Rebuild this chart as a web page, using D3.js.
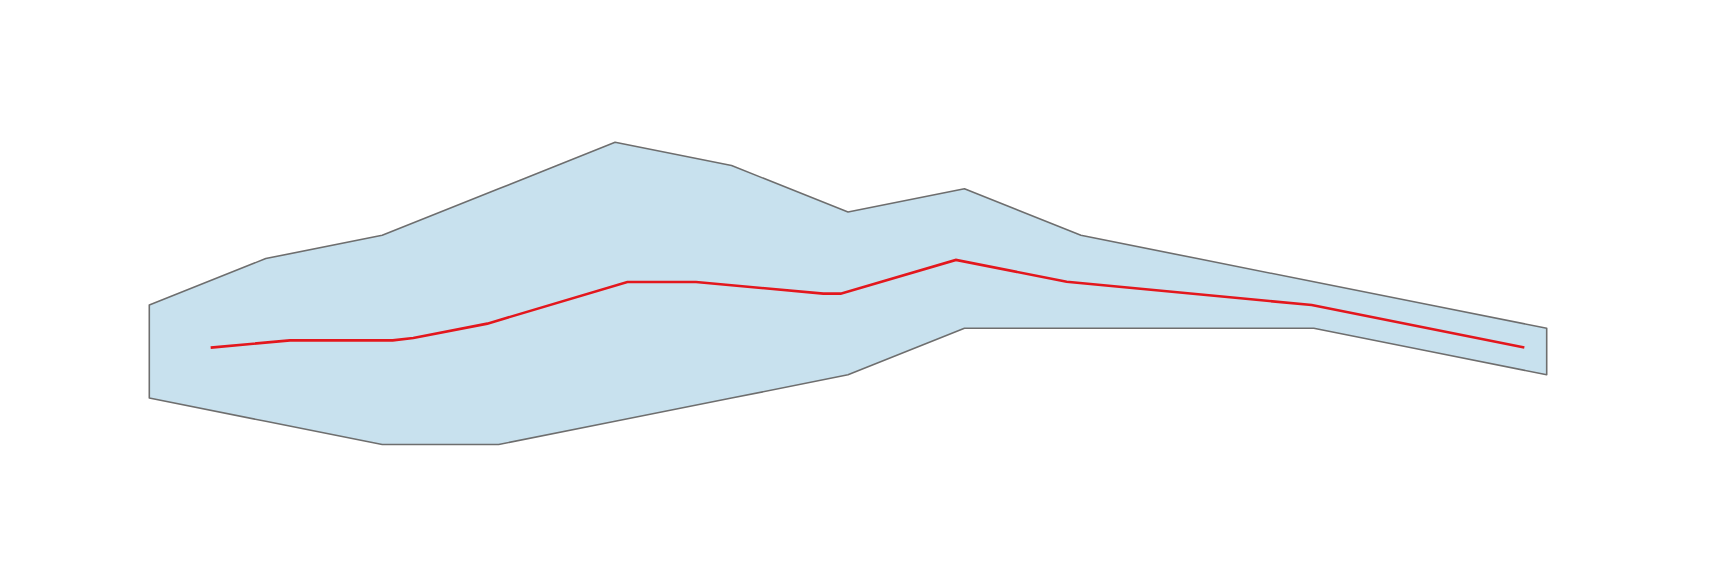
<!DOCTYPE html>
<html lang="en">
  <head>
    <meta charset="utf-8">
    <title>Band and line</title>
    <script src="https://d3js.org/d3.v7.min.js"></script>
    <style type="text/css">
      body { margin: 0; background: #fff; }
      .band {
        fill: #c8e1ee;
        stroke: #6e6e6e;
        stroke-width: 1.6px;
        stroke-linejoin: round;
      }
      .linestyle {
        fill: none;
        stroke: #e3171d;
        stroke-width: 2.6px;
      }
    </style>
  </head>
  <body>
    <script>
      var w = 1713;

      var h = 567;

      var svg = d3.select("body").append("svg")
          .attr("width", w).attr("height", h);

      // band (index 0..12)
      var steps = d3.range(13);
      var upper = [6, 8, 9, 11, 13, 12, 10, 11, 9, 8, 7, 6, 5];
      var lower = [2, 1, 0, 0, 1, 2, 3, 5, 5, 5, 5, 4, 3];

      // red line, positions in index units
      var lineX = [0.527, 1.208, 2.09, 2.267, 2.903, 4.105, 4.695, 5.788,
                   5.937, 6.927, 7.878, 9.982, 11.808];
      var lineY = [4.17, 4.48, 4.48, 4.58, 5.2, 6.99, 6.99, 6.49,
                   6.49, 7.94, 7.0, 6.0, 4.17];

      var xScale = d3.scaleLinear()
        .domain([0, 12])
        .range([149.3, 1546.7]);

      var yScale = d3.scaleLinear()
        .domain([0, 13])
        .range([444.55, 142.3]);

      var areagen = d3.area()
        .x(d => xScale(d))
        .y0(d => yScale(lower[d]))
        .y1(d => yScale(upper[d]));

      svg.append("path")
         .datum(steps)
         .attr("d", areagen)
         .attr("class", "band");

      var mylinegen = d3.line()
        .x(d => xScale(lineX[d]))
        .y(d => yScale(lineY[d]));

      svg.append("path")
         .datum(d3.range(lineX.length))
         .attr("d", mylinegen)
         .attr("class", "linestyle");

    </script>

  </body>
</html>
